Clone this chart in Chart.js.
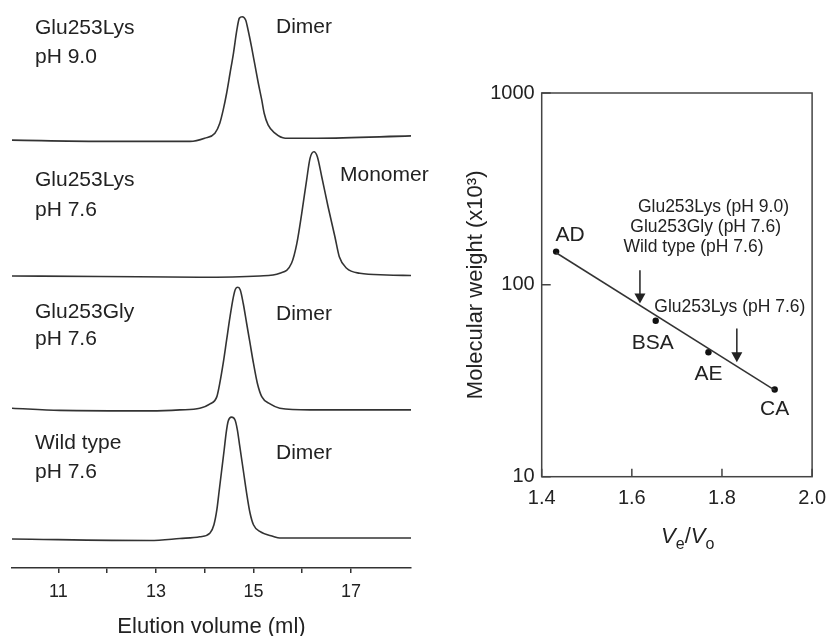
<!DOCTYPE html>
<html>
<head>
<meta charset="utf-8">
<script src="https://cdn.jsdelivr.net/npm/chart.js@4"></script>
<style>
  html, body { margin: 0; padding: 0; background: #fff; overflow: hidden; }
  canvas { position: absolute; top: 0; }
  #elution { left: 0; }
  #calibration { left: 460px; }
</style>
</head>
<body>
<canvas id="elution" width="440" height="636"></canvas>
<canvas id="calibration" width="376" height="636"></canvas>
<script>
// ---- left panel: gel filtration traces ----
var elutionTicks = [11, 12, 13, 14, 15, 16, 17];
var elutionLabelled = [11, 13, 15, 17];

var sampleNames = ['Glu253Lys', 'Glu253Lys', 'Glu253Gly', 'Wild type'];
var samplePH = ['pH 9.0', 'pH 7.6', 'pH 7.6', 'pH 7.6'];
var oligomerState = ['Dimer', 'Monomer', 'Dimer', 'Dimer'];

var lys90Vol = [10.05, 11.85, 12.88, 13.70, 14.00, 14.21, 14.31, 14.38, 14.45, 14.52, 14.59, 14.66, 14.71, 14.77, 14.84, 14.89, 14.96, 15.03, 15.10, 15.17, 15.22, 15.30, 15.44, 15.65, 16.30, 18.23];
var lys90Abs = [-0.01, -0.02, -0.02, -0.02, 0.006, 0.047, 0.129, 0.238, 0.375, 0.539, 0.703, 0.894, 0.990, 1.003, 0.976, 0.894, 0.757, 0.607, 0.457, 0.320, 0.211, 0.115, 0.047, 0.006, 0.006, 0.025];

var lys76Vol = [10.05, 11.85, 13.90, 15.13, 15.54, 15.78, 15.89, 15.99, 16.09, 16.16, 16.24, 16.31, 16.40, 16.53, 16.67, 16.76, 16.91, 17.18, 17.73, 18.23];
var lys76Abs = [-0.004, -0.008, -0.015, -0.004, 0.018, 0.100, 0.264, 0.510, 0.783, 0.961, 1.015, 0.974, 0.810, 0.564, 0.318, 0.154, 0.059, 0.018, 0.004, 0];

var gly76Vol = [10.05, 11.03, 12.88, 13.49, 13.90, 14.11, 14.25, 14.31, 14.38, 14.45, 14.52, 14.59, 14.63, 14.68, 14.73, 14.79, 14.86, 14.93, 15.00, 15.08, 15.17, 15.34, 15.54, 16.16, 18.23];
var gly76Abs = [0.014, -0.004, -0.008, 0, 0.014, 0.049, 0.109, 0.219, 0.383, 0.574, 0.765, 0.929, 0.990, 1.006, 0.984, 0.875, 0.711, 0.547, 0.383, 0.219, 0.109, 0.049, 0.014, 0, 0];

var wtVol = [10.05, 12.88, 13.49, 13.90, 14.11, 14.19, 14.25, 14.30, 14.35, 14.40, 14.44, 14.48, 14.55, 14.62, 14.67, 14.72, 14.79, 14.86, 14.93, 15.00, 15.13, 15.41, 15.54, 16.16, 18.23];
var wtAbs = [-0.002, -0.014, 0.002, 0.016, 0.047, 0.115, 0.238, 0.402, 0.566, 0.730, 0.867, 0.962, 0.998, 0.976, 0.894, 0.757, 0.566, 0.375, 0.211, 0.115, 0.060, 0.019, 0.006, 0.006, 0.006];

// ---- right panel: calibration ----
var mwTicks = [10, 100, 1000];
var ratioTicks = [1.4, 1.6, 1.8, 2.0];

var standards = ['AD', 'BSA', 'AE', 'CA'];
var standardVeVo = [1.432, 1.653, 1.770, 1.917];
var standardMW = [149, 65, 44.5, 28.5];

var fitVeVo = [1.432, 1.917];
var fitMW = [147, 28.3];

var arrowVeVo = [1.618, 1.833];
var arrowFromMW = [119, 59.3];
var arrowToMW = [80, 39.5];
var arrowNotes = [
    ['Glu253Lys (pH 9.0)', 'Glu253Gly (pH 7.6)', 'Wild type (pH 7.6)'],
    ['Glu253Lys (pH 7.6)']
];

var FONT = "'Liberation Sans', Arial, Helvetica, sans-serif";
var INK = '#222';
var LINE = '#333';

Chart.defaults.font.family = FONT;
Chart.defaults.color = INK;

function toPoints(xs, ys, shift) {
    return xs.map(function (x, i) {
        return { x: x, y: ys[i] + (shift || 0) };
    });
}

// vertical stacking of the four traces (bottom trace at 0)
var stackShift = [3.28, 2.16, 1.057, 0];
var traceSets = [
    [lys90Vol, lys90Abs],
    [lys76Vol, lys76Abs],
    [gly76Vol, gly76Abs],
    [wtVol, wtAbs]
];

var sampleLabels = {
    id: 'sampleLabels',
    afterDraw: function (chart) {
        var ctx = chart.ctx;
        var rows = [[28, 57, 27], [180, 210, 175], [312, 339, 314], [443, 472, 453]];
        ctx.save();
        ctx.font = '21px ' + FONT;
        ctx.fillStyle = INK;
        ctx.textBaseline = 'middle';
        ctx.textAlign = 'left';
        sampleNames.forEach(function (name, i) {
            ctx.fillText(name, 35, rows[i][0]);
            ctx.fillText(samplePH[i], 35, rows[i][1]);
            ctx.fillText(oligomerState[i], i === 1 ? 340 : 276, rows[i][2]);
        });
        ctx.restore();
    }
};

new Chart(document.getElementById('elution'), {
    type: 'line',
    data: {
        datasets: traceSets.map(function (t, i) {
            return {
                label: sampleNames[i] + ' ' + samplePH[i],
                data: toPoints(t[0], t[1], stackShift[i]),
                borderColor: LINE,
                borderWidth: 1.6,
                pointRadius: 0,
                fill: false,
                cubicInterpolationMode: 'monotone'
            };
        })
    },
    options: {
        responsive: false,
        animation: false,
        events: [],
        layout: { padding: { left: 12, right: 29, top: 0, bottom: 0 } },
        plugins: { legend: { display: false }, tooltip: { enabled: false } },
        scales: {
            x: {
                type: 'linear',
                min: 10.05,
                max: 18.23,
                afterBuildTicks: function (axis) {
                    axis.ticks = elutionTicks.map(function (v) { return { value: v }; });
                },
                afterFit: function (axis) { axis.height = 636 - 568; },
                ticks: {
                    autoSkip: false,
                    maxRotation: 0,
                    padding: 8,
                    color: INK,
                    font: { size: 18 },
                    callback: function (value) {
                        return elutionLabelled.indexOf(value) >= 0 ? String(value) : '';
                    }
                },
                grid: { drawOnChartArea: false, drawTicks: true, tickLength: 5, color: LINE, lineWidth: 1.5 },
                border: { display: true, color: LINE, width: 1.5 },
                title: {
                    display: true,
                    text: 'Elution volume (ml)',
                    color: INK,
                    padding: 0,
                    font: { size: 22, lineHeight: 0.8 }
                }
            },
            y: { display: false, min: -0.24, max: 4.42 }
        }
    },
    plugins: [sampleLabels]
});

var calibrationDecor = {
    id: 'calibrationDecor',
    afterDatasetsDraw: function (chart) {
        var ctx = chart.ctx;
        var area = chart.chartArea;
        var xs = chart.scales.x;
        var ys = chart.scales.y;
        ctx.save();

        // frame
        ctx.strokeStyle = '#444';
        ctx.lineWidth = 1.5;
        ctx.strokeRect(area.left, area.top, area.right - area.left, area.bottom - area.top);

        // inward ticks
        ctx.beginPath();
        ratioTicks.forEach(function (v) {
            var px = xs.getPixelForValue(v);
            ctx.moveTo(px, area.bottom);
            ctx.lineTo(px, area.bottom - 8);
        });
        mwTicks.forEach(function (v) {
            var py = ys.getPixelForValue(v);
            ctx.moveTo(area.left, py);
            ctx.lineTo(area.left + 9, py);
        });
        ctx.stroke();

        // arrows
        ctx.strokeStyle = '#222';
        ctx.fillStyle = '#222';
        ctx.lineWidth = 1.5;
        arrowVeVo.forEach(function (v, i) {
            var px = xs.getPixelForValue(v);
            var y0 = ys.getPixelForValue(arrowFromMW[i]);
            var y1 = ys.getPixelForValue(arrowToMW[i]);
            ctx.beginPath();
            ctx.moveTo(px, y0);
            ctx.lineTo(px, y1 - 8);
            ctx.stroke();
            ctx.beginPath();
            ctx.moveTo(px - 5.5, y1 - 10);
            ctx.lineTo(px + 5.5, y1 - 10);
            ctx.lineTo(px, y1);
            ctx.closePath();
            ctx.fill();
        });

        // arrow notes
        ctx.fillStyle = INK;
        ctx.font = '17.5px ' + FONT;
        ctx.textAlign = 'center';
        ctx.textBaseline = 'middle';
        var top1 = ys.getPixelForValue(arrowFromMW[0]);
        var x1 = xs.getPixelForValue(arrowVeVo[0]);
        var dx1 = [73.5, 65.7, 53.5];
        arrowNotes[0].forEach(function (t, k) {
            ctx.fillText(t, x1 + dx1[k], top1 - 63.3 + 20 * k);
        });
        var top2 = ys.getPixelForValue(arrowFromMW[1]);
        var x2 = xs.getPixelForValue(arrowVeVo[1]);
        ctx.fillText(arrowNotes[1][0], x2 - 7, top2 - 21.3);

        // standard labels
        ctx.font = '21px ' + FONT;
        var offs = [[14, -16], [-3, 22], [0, 22], [0, 20]];
        standards.forEach(function (name, i) {
            var px = xs.getPixelForValue(standardVeVo[i]);
            var py = ys.getPixelForValue(standardMW[i]);
            ctx.fillText(name, px + offs[i][0], py + offs[i][1]);
        });

        // Ve/Vo axis title
        var pieces = [
            { t: 'V', f: 'italic 22px ' + FONT, dy: 0 },
            { t: 'e', f: '16px ' + FONT, dy: 6 },
            { t: '/', f: '22px ' + FONT, dy: 0 },
            { t: 'V', f: 'italic 22px ' + FONT, dy: 0 },
            { t: 'o', f: '16px ' + FONT, dy: 6 }
        ];
        var total = 0;
        pieces.forEach(function (p) {
            ctx.font = p.f;
            p.w = ctx.measureText(p.t).width;
            total += p.w;
        });
        var cx = area.left + (area.right - area.left) * 0.54;
        var base = area.bottom + 66;
        var pos = cx - total / 2;
        ctx.textAlign = 'left';
        ctx.textBaseline = 'alphabetic';
        pieces.forEach(function (p) {
            ctx.font = p.f;
            ctx.fillText(p.t, pos, base + p.dy);
            pos += p.w;
        });

        ctx.restore();
    }
};

new Chart(document.getElementById('calibration'), {
    type: 'scatter',
    data: {
        datasets: [
            {
                type: 'line',
                label: 'fit',
                data: toPoints(fitVeVo, fitMW),
                borderColor: LINE,
                borderWidth: 1.5,
                pointRadius: 0,
                fill: false
            },
            {
                label: 'standards',
                data: toPoints(standardVeVo, standardMW),
                pointRadius: 3.2,
                pointBackgroundColor: '#111',
                pointBorderColor: '#111',
                pointBorderWidth: 0,
                showLine: false
            }
        ]
    },
    options: {
        responsive: false,
        animation: false,
        events: [],
        layout: { padding: { left: 0, right: 17.4, top: 93, bottom: 0 } },
        plugins: { legend: { display: false }, tooltip: { enabled: false } },
        scales: {
            x: {
                type: 'linear',
                min: 1.4,
                max: 2.0,
                afterBuildTicks: function (axis) {
                    axis.ticks = ratioTicks.map(function (v) { return { value: v }; });
                },
                afterFit: function (axis) { axis.height = 636 - 476.7; },
                ticks: {
                    autoSkip: false,
                    maxRotation: 0,
                    padding: 10,
                    color: INK,
                    font: { size: 20 },
                    callback: function (value) { return Number(value).toFixed(1); }
                },
                grid: { display: true, drawOnChartArea: false, drawTicks: false },
                border: { display: false }
            },
            y: {
                type: 'logarithmic',
                min: 10,
                max: 1000,
                afterBuildTicks: function (axis) {
                    axis.ticks = mwTicks.map(function (v) { return { value: v }; });
                },
                afterFit: function (axis) { axis.width = 81.7; },
                ticks: {
                    autoSkip: false,
                    padding: 7,
                    color: INK,
                    font: { size: 20 },
                    callback: function (value) { return String(value); }
                },
                grid: { display: true, drawOnChartArea: false, drawTicks: false },
                border: { display: false },
                title: {
                    display: true,
                    text: 'Molecular weight (x10³)',
                    color: INK,
                    padding: { top: 5, bottom: 0 },
                    font: { size: 22, lineHeight: 1 }
                }
            }
        }
    },
    plugins: [calibrationDecor]
});
</script>
</body>
</html>
